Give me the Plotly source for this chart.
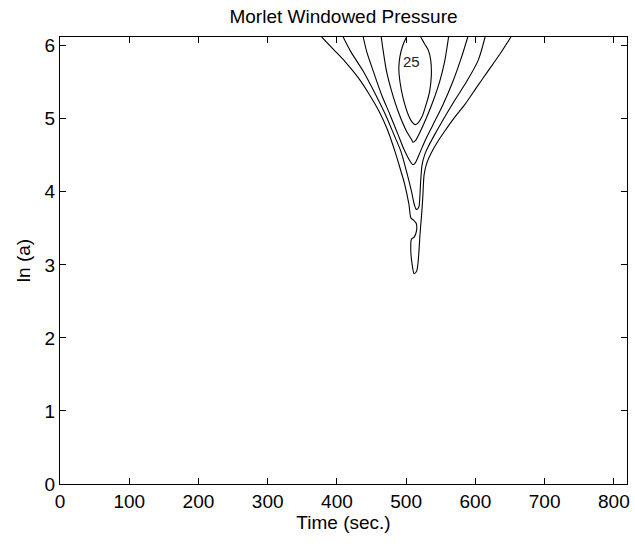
import plotly.graph_objects as go

# Contour levels of the Morlet-windowed pressure
levels = [5, 10, 15, 20, 25]

# Each contour: time (sec.) and ln(a) points along the line
c5_x = [378, 395, 412, 431, 447, 461, 473, 483.7, 491, 498, 504, 507, 511, 514.5, 515, 511.5,
        507.6, 506.7, 508.6, 511.5, 515.3, 518.2, 520, 522, 524, 526, 530, 536, 545, 555.6,
        570, 584.3, 601, 617.9, 635, 651.4]
c5_y = [6.12, 5.95, 5.78, 5.56, 5.33, 5.10, 4.85, 4.557, 4.33, 4.10, 3.83, 3.64, 3.61, 3.57, 3.47, 3.38,
        3.35, 3.19, 3.01, 2.88, 2.92, 3.15, 3.42, 3.65, 3.92, 4.24, 4.40, 4.53, 4.68, 4.83,
        5.02, 5.19, 5.42, 5.65, 5.88, 6.12]

c10_x = [409, 420, 438, 456, 470, 482.5, 492.3, 500.5, 507.6, 512, 514.5, 518.2, 519.8, 521, 523,
         526.8, 532, 541, 553, 570, 588, 604, 614]
c10_y = [6.12, 5.92, 5.65, 5.33, 5.06, 4.78, 4.557, 4.28, 4.01, 3.82, 3.76, 3.79, 3.94, 4.15, 4.37,
         4.51, 4.62, 4.78, 4.98, 5.25, 5.52, 5.80, 6.12]

c15_x = [438, 443, 452.6, 464.5, 476.5, 488.5, 496, 500.5, 505, 510, 513.4, 519.6, 526.8, 538.8,
         553, 567.5, 579.5, 589]
c15_y = [6.12, 5.92, 5.65, 5.33, 5.06, 4.78, 4.60, 4.51, 4.43, 4.37, 4.40, 4.53, 4.69, 4.92,
         5.19, 5.51, 5.83, 6.12]

c20_x = [464, 467, 471.7, 479, 488.5, 500.5, 507.6, 510, 513.4, 519.6, 529.2, 538.8, 548.4, 555.5, 561.3]
c20_y = [6.12, 5.92, 5.65, 5.38, 5.10, 4.83, 4.72, 4.68, 4.70, 4.81, 5.01, 5.24, 5.51, 5.78, 6.12]

c25_x = [500.5, 495, 491, 489.4, 491, 495.7, 502.9, 509, 513, 517, 523, 529, 534, 536.4, 535.5,
         532, 527, 521]
c25_y = [6.12, 6.0, 5.85, 5.70, 5.51, 5.28, 5.06, 4.95, 4.92, 4.94, 5.03, 5.20, 5.38, 5.60, 5.80,
         5.94, 6.02, 6.12]

contours_x = [c5_x, c10_x, c15_x, c20_x, c25_x]
contours_y = [c5_y, c10_y, c15_y, c20_y, c25_y]

label_text = "25"
label_pos = (508, 5.79)

x_ticks = [0, 100, 200, 300, 400, 500, 600, 700, 800]
y_ticks = [0, 1, 2, 3, 4, 5, 6]

FONT = "Liberation Sans, Arial, Helvetica, sans-serif"

fig = go.Figure()
for lev, xs, ys in zip(levels, contours_x, contours_y):
    fig.add_trace(go.Scatter(x=xs, y=ys, mode="lines", name=str(lev),
                             line=dict(color="black", width=1.1, shape="spline", smoothing=0.8),
                             showlegend=False, hoverinfo="skip"))

fig.add_annotation(x=label_pos[0], y=label_pos[1], text=label_text, showarrow=False,
                   font=dict(size=15, color="#222222", family=FONT))

axis_common = dict(showgrid=False, zeroline=False, showline=True, linecolor="black", linewidth=1,
                   ticks="inside", ticklen=6, tickcolor="black", mirror="allticks",
                   tickfont=dict(size=19, color="black", family=FONT))

fig.update_layout(
    width=635, height=544,
    margin=dict(l=60, r=5, t=37, b=60),
    paper_bgcolor="white", plot_bgcolor="white",
    title=dict(text="Morlet Windowed Pressure", x=0.5, xanchor="center", xref="paper",
               y=1 - 16 / 544, yanchor="middle",
               font=dict(size=19, color="black", family=FONT)),
    xaxis=dict(range=[0, 819], tickvals=x_ticks,
               title=dict(text="Time (sec.)", standoff=4,
                          font=dict(size=19, color="black", family=FONT)),
               **axis_common),
    yaxis=dict(range=[0, 6.12], tickvals=y_ticks,
               title=dict(text="ln (a)", standoff=8,
                          font=dict(size=19, color="black", family=FONT)),
               **axis_common),
)

fig.write_html("out.html")
